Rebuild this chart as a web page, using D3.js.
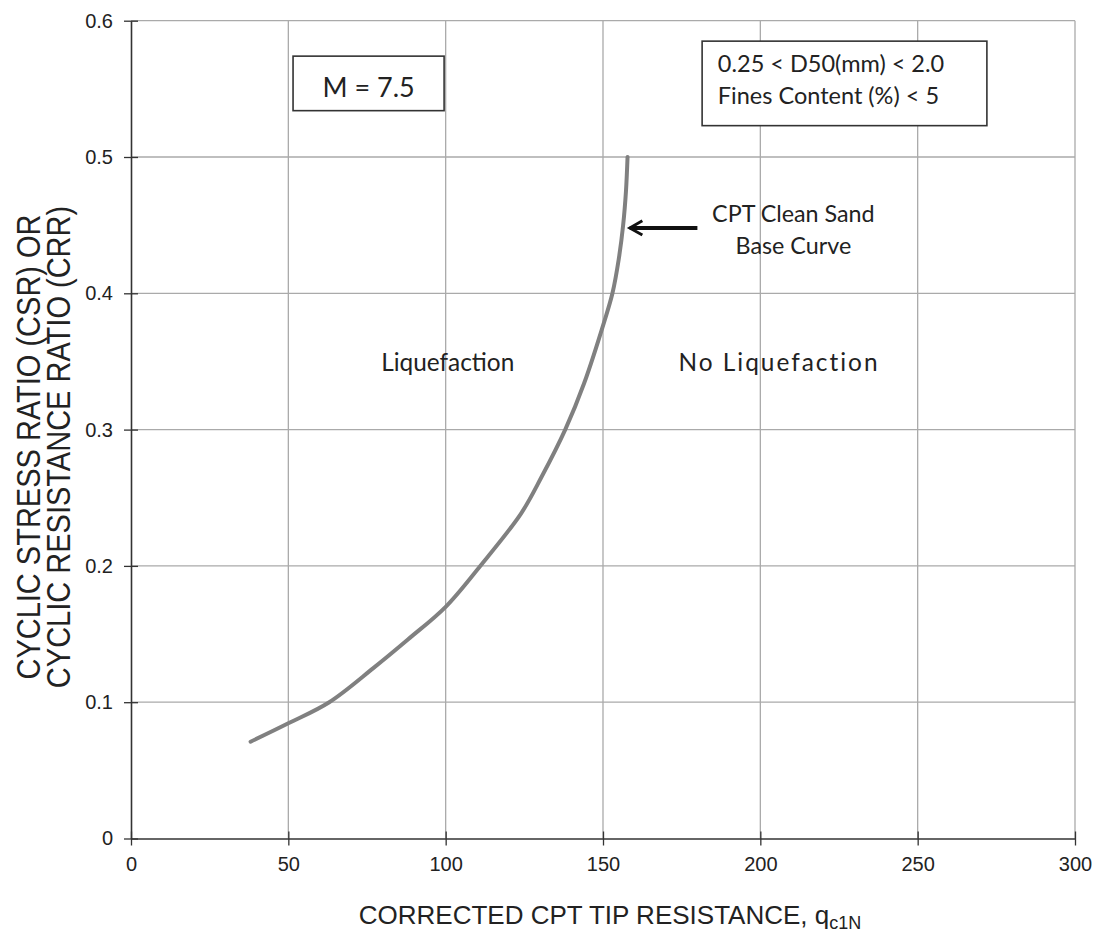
<!DOCTYPE html>
<html>
<head>
<meta charset="utf-8">
<script src="https://cdn.jsdelivr.net/npm/d3@7"></script>
<style>
  body { margin: 0; background: #fff; }
  .tick text { font-family: "Liberation Sans", Arial, sans-serif; font-size: 20px; fill: #222; }
  .note { font-family: Lato, "Open Sans", sans-serif; fill: #222; }
</style>
</head>
<body>
<div id="chart"></div>
<script>
// chart data
var qc1N = [38, 50, 63, 77, 88, 100, 111, 124, 130.5, 138, 144, 150.5, 153, 155, 156.4, 157.3, 157.8];
var crr = [0.071, 0.0845, 0.1, 0.125, 0.146, 0.170, 0.2, 0.2386, 0.2654, 0.3, 0.334, 0.38, 0.4, 0.425, 0.45, 0.475, 0.5];

var xTicks = [0, 50, 100, 150, 200, 250, 300];
var yTicks = [0, 0.1, 0.2, 0.3, 0.4, 0.5, 0.6];
var yTickLabels = ["0", "0.1", "0.2", "0.3", "0.4", "0.5", "0.6"];

var svgWidth = 1098;
var svgHeight = 932;

var margin = {
  top: 20.7,
  right: 23,
  bottom: 93.5,
  left: 131
};

var width = svgWidth - margin.left - margin.right;
var height = svgHeight - margin.top - margin.bottom;

var svg = d3.select("#chart")
  .append("svg")
  .attr("width", svgWidth)
  .attr("height", svgHeight);

var chartGroup = svg.append("g")
  .attr("transform", `translate(${margin.left}, ${margin.top})`);

var xScale = d3.scaleLinear().domain([0, 300]).range([0, width]);
var yScale = d3.scaleLinear().domain([0, 0.6]).range([height, 0]);

// gridlines
chartGroup.append("g")
  .selectAll("line")
  .data(xTicks.slice(1))
  .enter()
  .append("line")
  .attr("x1", d => xScale(d))
  .attr("x2", d => xScale(d))
  .attr("y1", 0)
  .attr("y2", height)
  .attr("stroke", "#aaaaaa")
  .attr("stroke-width", 1.3);

chartGroup.append("g")
  .selectAll("line")
  .data(yTicks.slice(1))
  .enter()
  .append("line")
  .attr("x1", 0)
  .attr("x2", width)
  .attr("y1", d => yScale(d))
  .attr("y2", d => yScale(d))
  .attr("stroke", "#aaaaaa")
  .attr("stroke-width", 1.3);

// axes
var bottomAxis = d3.axisBottom(xScale)
  .tickValues(xTicks)
  .tickSizeInner(7)
  .tickSizeOuter(0)
  .tickPadding(11);

var leftAxis = d3.axisLeft(yScale)
  .tickValues(yTicks)
  .tickFormat((d, i) => yTickLabels[i])
  .tickSizeInner(7)
  .tickSizeOuter(0)
  .tickPadding(11);

var xAxis = chartGroup.append("g")
  .attr("transform", `translate(0, ${height})`)
  .call(bottomAxis);
xAxis.selectAll(".tick line").attr("y1", -7);

var yAxis = chartGroup.append("g")
  .call(leftAxis);
yAxis.selectAll(".tick line").attr("x1", 7);

[xAxis, yAxis].forEach(function(ax) {
  ax.select(".domain").attr("stroke", "#333").attr("stroke-width", 1.6);
  ax.selectAll(".tick line").attr("stroke", "#333").attr("stroke-width", 1.3);
});

// base curve
var points = qc1N.map((q, i) => [q, crr[i]]);

var line = d3.line()
  .x(d => xScale(d[0]))
  .y(d => yScale(d[1]))
  .curve(d3.curveCatmullRom.alpha(0.5));

chartGroup.append("path")
  .datum(points)
  .attr("d", line)
  .attr("fill", "none")
  .attr("stroke", "#808080")
  .attr("stroke-width", 4)
  .attr("stroke-linecap", "round");

// M = 7.5 box
chartGroup.append("rect")
  .attr("x", xScale(51.5))
  .attr("y", yScale(0.574))
  .attr("width", xScale(99.5) - xScale(51.5))
  .attr("height", yScale(0.534) - yScale(0.574))
  .attr("fill", "#fff")
  .attr("stroke", "#333")
  .attr("stroke-width", 1.6);

chartGroup.append("text")
  .classed("note", true)
  .attr("x", xScale(75.5))
  .attr("y", yScale(0.544))
  .attr("text-anchor", "middle")
  .attr("font-size", 27)
  .text("M = 7.5");

// grain size box
chartGroup.append("rect")
  .attr("x", xScale(181.5))
  .attr("y", yScale(0.585))
  .attr("width", xScale(272) - xScale(181.5))
  .attr("height", yScale(0.523) - yScale(0.585))
  .attr("fill", "#fff")
  .attr("stroke", "#333")
  .attr("stroke-width", 1.6);

chartGroup.append("text")
  .classed("note", true)
  .attr("x", xScale(186.5))
  .attr("y", yScale(0.562))
  .attr("font-size", 23.5)
  .text("0.25 < D50(mm) < 2.0");

chartGroup.append("text")
  .classed("note", true)
  .attr("x", xScale(186.5))
  .attr("y", yScale(0.539))
  .attr("font-size", 23.5)
  .text("Fines Content (%) < 5");

// region labels
chartGroup.append("text")
  .classed("note", true)
  .attr("x", xScale(79.5))
  .attr("y", yScale(0.343))
  .attr("font-size", 24.4)
  .text("Liquefaction");

chartGroup.append("text")
  .classed("note", true)
  .attr("x", xScale(174))
  .attr("y", yScale(0.343))
  .attr("font-size", 24.4)
  .attr("letter-spacing", 2)
  .text("No Liquefaction");

// curve callout
chartGroup.append("text")
  .classed("note", true)
  .attr("x", xScale(210.5))
  .attr("y", yScale(0.452))
  .attr("text-anchor", "middle")
  .attr("font-size", 23.3)
  .text("CPT Clean Sand");

chartGroup.append("text")
  .classed("note", true)
  .attr("x", xScale(210.5))
  .attr("y", yScale(0.429))
  .attr("text-anchor", "middle")
  .attr("font-size", 23.3)
  .text("Base Curve");

svg.append("defs").append("marker")
  .attr("id", "head")
  .attr("viewBox", "0 0 10 10")
  .attr("refX", 8)
  .attr("refY", 5)
  .attr("markerWidth", 4.5)
  .attr("markerHeight", 4.5)
  .attr("orient", "auto")
  .append("path")
  .attr("d", "M1,1 L8,5 L1,9")
  .attr("fill", "none")
  .attr("stroke", "#111")
  .attr("stroke-width", 1.6);

chartGroup.append("line")
  .attr("x1", xScale(180))
  .attr("x2", xScale(158.5))
  .attr("y1", yScale(0.448))
  .attr("y2", yScale(0.448))
  .attr("stroke", "#111")
  .attr("stroke-width", 4)
  .attr("marker-end", "url(#head)");

// axis titles
var xTitle = svg.append("text")
  .attr("x", 610)
  .attr("y", 924)
  .attr("text-anchor", "middle")
  .attr("font-family", "'Liberation Sans', Arial, sans-serif")
  .attr("font-size", 26)
  .attr("fill", "#222");
xTitle.append("tspan").text("CORRECTED CPT TIP RESISTANCE, q");
xTitle.append("tspan").attr("font-size", 18).attr("dy", 5).text("c1N");

// y title is a little stretched across its lines in the original
var yTitle = svg.append("text")
  .attr("transform", "translate(0, 447) rotate(-90) scale(1, 1.15)")
  .attr("text-anchor", "middle")
  .attr("font-family", "'Liberation Sans', Arial, sans-serif")
  .attr("font-size", 29)
  .attr("fill", "#222");
yTitle.append("tspan").attr("x", 0).attr("y", 34.5).text("CYCLIC STRESS RATIO (CSR) OR");
yTitle.append("tspan").attr("x", 0).attr("y", 60.5).text("CYCLIC RESISTANCE RATIO (CRR)");
</script>
</body>
</html>
